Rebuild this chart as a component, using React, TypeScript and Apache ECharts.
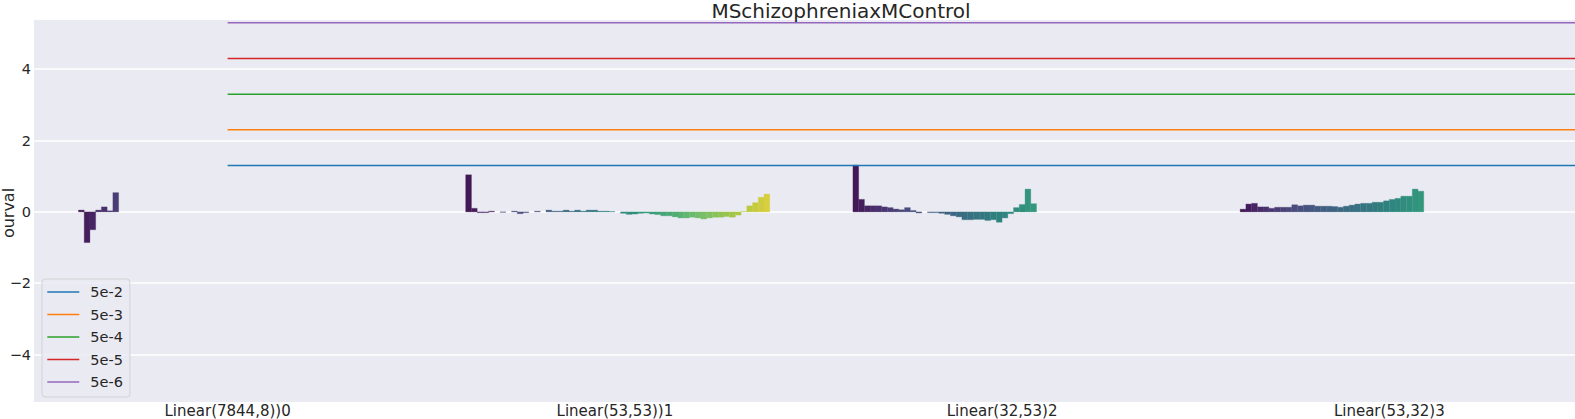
import React, { useEffect, useRef } from "react";
import * as echarts from "echarts";

const TITLE = "MSchizophreniaxMControl";
const Y_LABEL = "ourval";
const CATEGORIES = ["Linear(7844,8))0", "Linear(53,53))1", "Linear(32,53)2", "Linear(53,32)3"];
const HUE_LEVELS = 54;
const FIRST_LEVEL = 1;

const GROUP0 = [0.05, -0.86, -0.5, 0.05, 0.14, 0.03, 0.54];
const GROUP1 = [
  1.04, 0.1, -0.02, -0.02, 0.02, 0.0, -0.01, 0.0, 0.02, -0.05,
  -0.02, 0.0, 0.02, 0.0, 0.05, 0.02, 0.02, 0.05, 0.02, 0.05,
  0.02, 0.05, 0.05, 0.02, 0.02, 0.01, 0.0, -0.04, -0.07, -0.06,
  -0.04, -0.03, -0.06, -0.075, -0.11, -0.11, -0.14, -0.17, -0.17, -0.15,
  -0.17, -0.2, -0.17, -0.15, -0.15, -0.13, -0.15, -0.09, 0.01, 0.17,
  0.26, 0.41, 0.5,
];
const GROUP2 = [
  1.31, 0.35, 0.17, 0.17, 0.17, 0.14, 0.12, 0.08, 0.06, 0.12,
  0.04, -0.03, 0.0, -0.02, -0.02, -0.04, -0.07, -0.11, -0.14, -0.22,
  -0.22, -0.21, -0.21, -0.24, -0.22, -0.29, -0.17, -0.05, 0.12, 0.21,
  0.64, 0.23,
];
const GROUP3 = [
  0.075, 0.22, 0.24, 0.14, 0.14, 0.1, 0.13, 0.13, 0.13, 0.2,
  0.17, 0.19, 0.19, 0.16, 0.16, 0.16, 0.15, 0.13, 0.16, 0.19,
  0.22, 0.24, 0.24, 0.27, 0.27, 0.31, 0.35, 0.38, 0.44, 0.44,
  0.64, 0.58,
];
const GROUPS = [GROUP0, GROUP1, GROUP2, GROUP3];

const THRESHOLD_NAMES = ["5e-2", "5e-3", "5e-4", "5e-5", "5e-6"];
const THRESHOLD_VALUES = [1.30103, 2.30103, 3.30103, 4.30103, 5.30103];
const THRESHOLD_COLORS = ["#1f77b4", "#ff7f0e", "#2ca02c", "#d62728", "#9467bd"];
const Y_TICKS = [-4, -2, 0, 2, 4];

const VIRIDIS_STOPS = [
  "#440154", "#482475", "#414487", "#355f8d", "#2a788e", "#21918c",
  "#22a884", "#44bf70", "#7ad151", "#bddf26", "#fde725",
];

function hexToRgb(h: string): number[] {
  return [1, 3, 5].map((i) => parseInt(h.slice(i, i + 2), 16) / 255);
}

function viridis(t: number): number[] {
  const n = VIRIDIS_STOPS.length - 1;
  const p = Math.max(0, Math.min(1, t)) * n;
  const i = Math.min(n - 1, Math.floor(p));
  const f = p - i;
  const a = hexToRgb(VIRIDIS_STOPS[i]);
  const b = hexToRgb(VIRIDIS_STOPS[i + 1]);
  return a.map((v, k) => v + (b[k] - v) * f);
}

function desaturate(rgb: number[], prop: number): string {
  const [r, g, b] = rgb;
  const mx = Math.max(r, g, b);
  const mn = Math.min(r, g, b);
  const l = (mx + mn) / 2;
  let h = 0;
  let s = 0;
  if (mx !== mn) {
    const d = mx - mn;
    s = l > 0.5 ? d / (2 - mx - mn) : d / (mx + mn);
    if (mx === r) h = ((g - b) / d + (g < b ? 6 : 0)) / 6;
    else if (mx === g) h = ((b - r) / d + 2) / 6;
    else h = ((r - g) / d + 4) / 6;
  }
  s *= prop;
  const hue2rgb = (p: number, q: number, t: number) => {
    if (t < 0) t += 1;
    if (t > 1) t -= 1;
    if (t < 1 / 6) return p + (q - p) * 6 * t;
    if (t < 1 / 2) return q;
    if (t < 2 / 3) return p + (q - p) * (2 / 3 - t) * 6;
    return p;
  };
  let out: number[];
  if (s === 0) out = [l, l, l];
  else {
    const q = l < 0.5 ? l * (1 + s) : l + s - l * s;
    const p = 2 * l - q;
    out = [hue2rgb(p, q, h + 1 / 3), hue2rgb(p, q, h), hue2rgb(p, q, h - 1 / 3)];
  }
  return "rgb(" + out.map((v) => Math.round(v * 255)).join(",") + ")";
}

const PALETTE = Array.from({ length: HUE_LEVELS }, (_, i) =>
  desaturate(viridis((i + 1) / (HUE_LEVELS + 1)), 0.75)
);
const SLOT = 0.8 / HUE_LEVELS;

const BAR_DATA: number[][] = [];
GROUPS.forEach((vals, g) => {
  vals.forEach((v, i) => {
    if (v !== 0) BAR_DATA.push([g, FIRST_LEVEL + i, v]);
  });
});

const FONT = "DejaVu Sans";
const TEXT = "#262626";

export default function App() {
  const ref = useRef<HTMLDivElement>(null);
  useEffect(() => {
    if (!ref.current) return;
    const chart = echarts.init(ref.current, null, { renderer: "svg" });
    const option: any = {
      animation: false,
      backgroundColor: "#ffffff",
      textStyle: { fontFamily: FONT },
      grid: {
        left: 34,
        top: 20,
        width: 1614,
        height: 382,
        show: true,
        backgroundColor: "#EAEAF2",
        borderWidth: 0,
        containLabel: false,
        outerBoundsMode: "none",
      },
      graphic: [
        {
          type: "text",
          x: 841,
          y: 10.5,
          style: {
            text: TITLE,
            font: '20px "DejaVu Sans"',
            fill: TEXT,
            align: "center",
            verticalAlign: "middle",
            textAlign: "center",
            textVerticalAlign: "middle",
          },
        },
        {
          type: "text",
          x: 8,
          y: 213,
          rotation: Math.PI / 2,
          style: {
            text: Y_LABEL,
            font: '16px "DejaVu Sans"',
            fill: TEXT,
            align: "center",
            verticalAlign: "middle",
            textAlign: "center",
            textVerticalAlign: "middle",
          },
        },
      ],
      legend: {
        data: THRESHOLD_NAMES,
        orient: "vertical",
        left: 42,
        top: 279,
        padding: [4.5, 7, 6.5, 5.3],
        icon: "rect",
        itemWidth: 32,
        itemHeight: 1.6,
        itemGap: 5.5,
        backgroundColor: "rgba(234,234,242,0.8)",
        borderColor: "rgba(204,204,204,0.8)",
        borderWidth: 1,
        borderRadius: 3,
        textStyle: { fontSize: 14.5, color: TEXT, lineHeight: 17, padding: [0, 0, 0, 6], fontFamily: FONT },
      },
      xAxis: {
        type: "value",
        min: -0.5,
        max: 3.668,
        axisLine: { show: false },
        axisTick: { show: false, customValues: [0, 1, 2, 3] },
        splitLine: { show: false },
        axisLabel: {
          customValues: [0, 1, 2, 3],
          formatter: (v: number) => CATEGORIES[Math.round(v)],
          fontSize: 15,
          color: TEXT,
          margin: 1,
          fontFamily: FONT,
        },
      },
      yAxis: {
        type: "value",
        min: -5.33,
        max: 5.38,
        axisLine: { show: false },
        axisTick: { show: false, customValues: Y_TICKS },
        axisLabel: {
          customValues: Y_TICKS,
          formatter: (v: number) => (v < 0 ? "\u2212" + Math.abs(v) : String(v)),
          fontSize: 14.5,
          color: TEXT,
          margin: 3,
          fontFamily: FONT,
        },
        splitLine: { show: true, lineStyle: { color: "#ffffff", width: 1.5 } },
      },
      series: [
        {
          type: "custom",
          name: "bars",
          data: BAR_DATA,
          encode: { x: 0, y: 2 },
          clip: true,
          z: 2,
          silent: true,
          renderItem: (params: any, api: any) => {
            const g = api.value(0);
            const lv = api.value(1);
            const v = api.value(2);
            const x0 = g - 0.4 + lv * SLOT;
            const p0 = api.coord([x0, 0]);
            const p1 = api.coord([x0 + SLOT, v]);
            const col = PALETTE[lv];
            return {
              type: "rect",
              shape: {
                x: p0[0],
                y: Math.min(p0[1], p1[1]),
                width: p1[0] - p0[0],
                height: Math.abs(p1[1] - p0[1]),
              },
              style: { fill: col, stroke: col, lineWidth: 0.3 },
            };
          },
        },
        ...THRESHOLD_VALUES.map((v, i) => ({
          type: "line",
          name: THRESHOLD_NAMES[i],
          data: [
            [0, v],
            [4, v],
          ],
          symbol: "none",
          showSymbol: false,
          color: THRESHOLD_COLORS[i],
          itemStyle: { color: THRESHOLD_COLORS[i] },
          lineStyle: { color: THRESHOLD_COLORS[i], width: 1.5 },
          z: 3,
          silent: true,
        })),
      ],
    };
    chart.setOption(option);
    return () => chart.dispose();
  }, []);
  return (
    <div
      ref={ref}
      style={{ position: "fixed", left: 0, top: 0, width: 1575, height: 419 }}
    />
  );
}
